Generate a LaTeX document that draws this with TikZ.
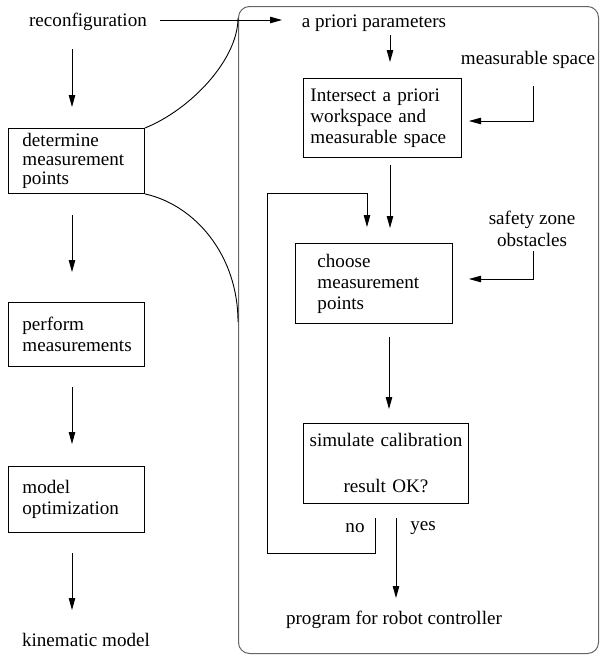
\documentclass[tikz,border=0pt]{standalone}
\usepackage{fontspec}
\setmainfont{Liberation Serif}
\usetikzlibrary{arrows.meta}
\begin{document}
\begin{tikzpicture}[x=1pt,y=-1pt,
  every node/.style={font=\fontsize{19.1}{21}\selectfont, inner sep=0pt},
  box/.style={draw, line width=0.9pt, anchor=north west, align=left, inner ysep=0pt},
  arr/.style={line width=0.9pt, -{Triangle[length=12pt,width=6.5pt]}},
  ln/.style={line width=0.9pt},
  panel/.style={draw=black!60, line width=1pt, rounded corners=11pt}
]
\useasboundingbox (0,0) rectangle (601,656);

% outer panel
\node[panel, anchor=north west, minimum width=360, minimum height=647] (panel) at (238,6) {};

% left column
\node (recon) at (88,22) {reconfiguration};
\node[box, minimum width=136, minimum height=65, inner xsep=14, text width=108,
      font=\fontsize{19.1}{19}\selectfont] (det) at (8,128) {determine\\measurement\\points};
\node[box, minimum width=136, minimum height=64, inner xsep=14, text width=108] (perf) at (8,302) {perform\\measurements};
\node[box, minimum width=136, minimum height=66, inner xsep=14, text width=108] (model) at (8,466) {model\\optimization};
\node (kin) at (86,640) {kinematic model};

% right column
\node (apriori) at (374,23) {a priori parameters};
\node (meas) at (528,60) {measurable space};
\node[box, minimum width=158, minimum height=79, inner xsep=7, text width=144] (inter) at (303,78) {Intersect a priori\\workspace and\\measurable space};
\node[align=center, font=\fontsize{19.1}{22}\selectfont] (safety) at (532,229) {safety zone\\obstacles};
\node[box, minimum width=157, minimum height=80, inner xsep=22, text width=113] (choose) at (295,243) {choose\\measurement\\points};
\node[box, align=center, minimum width=165, minimum height=80, inner xsep=0, text width=165] (sim) at (303,423) {simulate calibration\\[25pt]result OK?};
\node (no) at (355,528) {no};
\node (yes) at (423,528) {yes};
\node (prog) at (394,620) {program for robot controller};

% coordinates for connector ends
\coordinate (a1) at (72,49);  \coordinate (a2) at (72,107);
\coordinate (b1) at (72,215); \coordinate (b2) at (72,272);
\coordinate (c1) at (72,387); \coordinate (c2) at (72,444);
\coordinate (d1) at (72,553); \coordinate (d2) at (72,610);
\coordinate (e1) at (160,20); \coordinate (e2) at (282,20);
\coordinate (f1) at (390,35); \coordinate (f2) at (390,62);
\coordinate (g1) at (533,86); \coordinate (g2) at (469,121);
\coordinate (h1) at (390,165); \coordinate (h2) at (390,228);
\coordinate (i1) at (533,251); \coordinate (i2) at (469,279);
\coordinate (j1) at (389,337); \coordinate (j2) at (389,409);
\coordinate (k1) at (396,518); \coordinate (k2) at (396,598);
\coordinate (l1) at (375,518); \coordinate (l2) at (267,553);
\coordinate (l3) at (267,193); \coordinate (l4) at (367,227);
\coordinate (topj) at (238,18);
\coordinate (botj) at (238,322);

% arrows
\draw[arr] (a1) -- (a2);
\draw[arr] (b1) -- (b2);
\draw[arr] (c1) -- (c2);
\draw[arr] (d1) -- (d2);
\draw[arr] (e1) -- (e2);
\draw[arr] (f1) -- (f2);
\draw[arr] (g1) |- (g2);
\draw[arr] (h1) -- (h2);
\draw[arr] (i1) |- (i2);
\draw[arr] (j1) -- (j2);
\draw[arr] (k1) -- (k2);
\draw[arr] (l1) |- (l2) -- (l3) -| (l4);

% zoom curves
\draw[ln] (det.north east) .. controls (190,110) and (238,60) .. (topj);
\draw[ln] (det.south east) .. controls (195,205) and (238,255) .. (botj);
\end{tikzpicture}
\end{document}
